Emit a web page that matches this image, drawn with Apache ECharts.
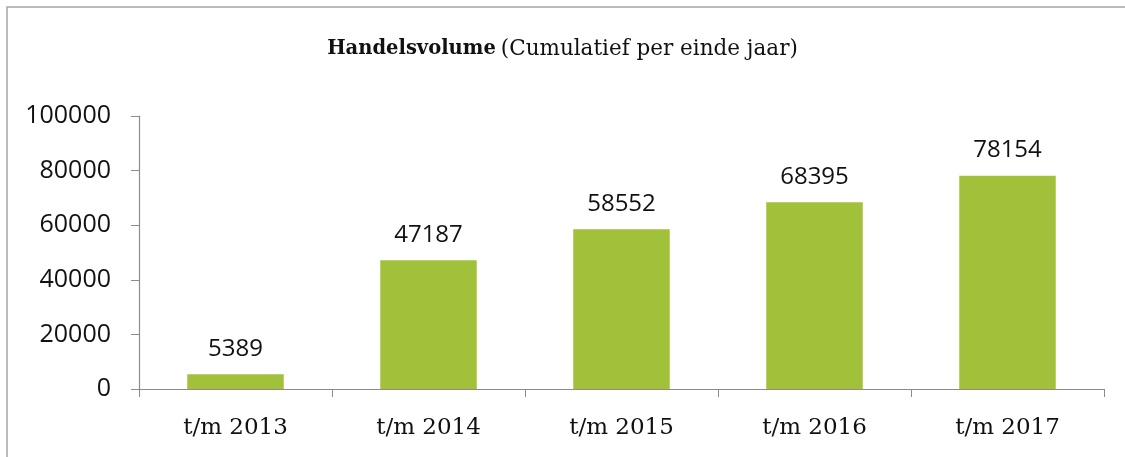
<!DOCTYPE html>
<html>
<head>
<meta charset="utf-8">
<script src="https://cdn.jsdelivr.net/npm/echarts@6/dist/echarts.min.js"></script>
<style>
  html, body { margin: 0; padding: 0; background: #fff; }
  #chart { width: 1125px; height: 457px; }
</style>
</head>
<body>
<div id="chart"></div>
<script>
  // data
  const categories = ['t/m 2013', 't/m 2014', 't/m 2015', 't/m 2016', 't/m 2017']
  const volumes = [5389, 47187, 58552, 68395, 78154]
  const yTicks = [0, 20000, 40000, 60000, 80000, 100000]

  const chart = echarts.init(document.getElementById('chart'))
  const option = {
    animation: false,
    graphic: [
      {
        type: 'rect',
        shape: { x: 7, y: 7, width: 1140, height: 470 },
        style: { fill: 'none', stroke: '#a6a6a6', lineWidth: 1.5 }
      }
    ],
    title: {
      text: '{b|Handelsvolume} {n|(Cumulatief per einde jaar)}',
      left: 'center',
      top: 33,
      textStyle: {
        rich: {
          b: { fontFamily: 'DejaVu Serif', fontWeight: 'bold', fontSize: 19.5, color: '#111' },
          n: { fontFamily: 'DejaVu Serif', fontWeight: 'normal', fontSize: 21.5, color: '#111' }
        }
      }
    },
    grid: { left: 139, right: 21, top: 116, bottom: 68 },
    xAxis: {
      type: 'category',
      data: categories,
      axisLine: { lineStyle: { color: '#8c8c8c', width: 1.2 } },
      axisTick: { show: true, length: 8, lineStyle: { color: '#8c8c8c' } },
      axisLabel: { fontFamily: 'DejaVu Serif', fontSize: 23, color: '#111', margin: 28 }
    },
    yAxis: {
      type: 'value',
      min: yTicks[0],
      max: yTicks[yTicks.length - 1],
      interval: 20000,
      splitLine: { show: false },
      axisLine: { show: true, lineStyle: { color: '#8c8c8c', width: 1.2 } },
      axisTick: { show: true, length: 8, lineStyle: { color: '#8c8c8c' } },
      axisLabel: {
        fontFamily: 'Open Sans',
        fontSize: 25,
        color: '#111',
        margin: 28,
        formatter: v => String(v)
      }
    },
    series: [
      {
        type: 'bar',
        data: volumes,
        barWidth: '50%',
        itemStyle: { color: '#a2c13a' },
        label: {
          show: true,
          position: 'top',
          distance: 13,
          fontFamily: 'Open Sans',
          fontSize: 24,
          color: '#111'
        }
      }
    ]
  }
  chart.setOption(option)
</script>
</body>
</html>
